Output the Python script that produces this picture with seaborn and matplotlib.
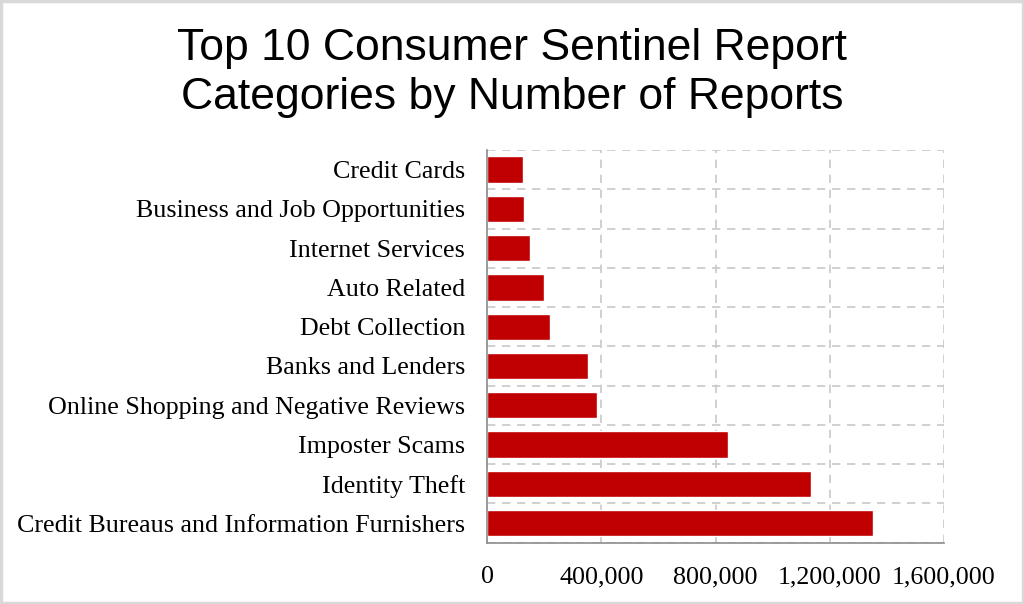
import matplotlib
matplotlib.use("Agg")
import matplotlib.pyplot as plt
import seaborn as sns
import pandas as pd
from matplotlib.ticker import FuncFormatter, MultipleLocator

categories = [
    "Credit Cards",
    "Business and Job Opportunities",
    "Internet Services",
    "Auto Related",
    "Debt Collection",
    "Banks and Lenders",
    "Online Shopping and Negative Reviews",
    "Imposter Scams",
    "Identity Theft",
    "Credit Bureaus and Information Furnishers",
]
reports = [126000, 130000, 150000, 197000, 219000, 352000, 385000, 845000, 1135000, 1354000]
x_ticks = [0, 400000, 800000, 1200000, 1600000]

df = pd.DataFrame({"category": categories, "reports": reports})

sns.set_theme(style="white")
plt.rcParams["font.family"] = ["Liberation Serif", "DejaVu Serif"]

fig = plt.figure(figsize=(10.24, 6.04), dpi=100)
ax = fig.add_axes([0.476, 0.1015, 0.4455, 0.6502])

sns.barplot(data=df, y="category", x="reports", orient="h", color="#C00000",
            width=0.67, saturation=1, ax=ax, order=categories)

ax.set_xlim(0, 1600000)
ax.set_ylim(9.5, -0.5)
ax.set_xticks(x_ticks)
ax.xaxis.set_major_formatter(FuncFormatter(lambda v, p: f"{int(v):,}"))
ax.yaxis.set_minor_locator(MultipleLocator(1, offset=0.5))
ax.set_yticks([i for i in range(len(categories))])
ax.set_yticklabels(categories)
ax.set_xlabel("")
ax.set_ylabel("")

ax.grid(False)
ax.set_axisbelow(True)
ax.xaxis.grid(True, which="major", color="#c8c8c8", linestyle=(0, (5, 4)), linewidth=1.2)
ax.yaxis.grid(True, which="minor", color="#c8c8c8", linestyle=(0, (5, 4)), linewidth=1.2)

for s in ["top", "right"]:
    ax.spines[s].set_visible(False)
for s in ["left", "bottom"]:
    ax.spines[s].set_color("#8c8c8c")
    ax.spines[s].set_linewidth(1.2)

ax.tick_params(axis="x", which="both", length=0, pad=17, labelsize=18.7, colors="black")
ax.tick_params(axis="y", which="both", length=0, pad=16, labelsize=18.7, colors="black")

fig.text(0.5, 0.879, "Top 10 Consumer Sentinel Report\nCategories by Number of Reports",
         ha="center", va="center", fontsize=32, family=["Liberation Sans", "DejaVu Sans"],
         linespacing=1.27, color="black")

fig.patches.append(plt.Rectangle((0.001, 0.001), 0.998, 0.997, transform=fig.transFigure,
                                 fill=False, edgecolor="#d9d9d9", linewidth=2.5))

fig.savefig("out.png", dpi=100)
